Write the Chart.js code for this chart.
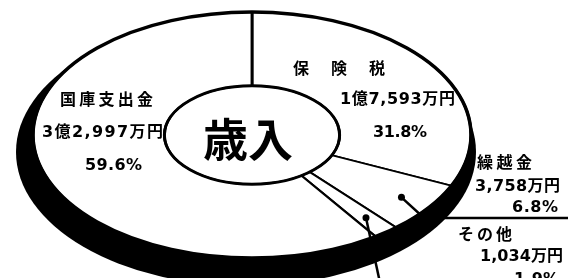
<!DOCTYPE html>
<html>
<head>
<meta charset="utf-8">
<script src="https://cdn.jsdelivr.net/npm/chart.js@4/dist/chart.umd.min.js"></script>
<style>
html,body{margin:0;padding:0;background:#fff;overflow:hidden;}
canvas{display:block;}
</style>
</head>
<body>
<canvas id="c" width="588" height="278"></canvas>
<script>
// ---- data (clockwise from the top) ----
const categories = ['保険税', '繰越金', 'その他', '国庫支出金'];
const amounts = ['1億7,593万円', '3,758万円', '1,034万円', '3億2,997万円'];
const percents = [31.8, 6.8, 1.9, 59.6];
const centerTitle = '歳入';

// ---- layout / style ----
const ellipse = { cx: 252, cy: 135, rx: 219, ry: 123 };   // projected pie rim
const shadow = { dx: -6, dy: 17, grow: 11 };              // 3D depth band
const textFont = 'bold 16px "DejaVu Sans", "Noto Sans CJK JP", sans-serif';
const titleFont = 'bold 45px "Noto Sans CJK JP", sans-serif';
// [x0, x1, yCenter] spans for name / amount / percent of each slice
const labelBoxes = [
  { name: [293, 385, 70],  amount: [340, 455, 100], pct: [373, 427, 133] },
  { name: [477, 532, 164], amount: [475, 560, 187], pct: [512, 558, 208] },
  { name: [458, 512, 236], amount: [480, 563, 257], pct: [514, 559, 280] },
  { name: [60, 153, 101],  amount: [42, 163, 133],  pct: [85, 142, 166] }
];
const leaders = [
  { index: 1, frac: 0.75, points: [[424, 218], [568, 218]] },
  { index: 2, frac: 0.75, points: [[382, 292]] }
];

function spanText(ctx, str, x0, x1, y) {
  const chars = Array.from(str);
  const widths = chars.map(ch => ctx.measureText(ch).width);
  const total = widths.reduce((a, b) => a + b, 0);
  const gap = chars.length > 1 ? (x1 - x0 - total) / (chars.length - 1) : 0;
  let x = x0;
  chars.forEach((ch, i) => { ctx.fillText(ch, x, y); x += widths[i] + gap; });
}

const tiltPlugin = {
  id: 'tilt',
  beforeDatasetsDraw(chart) {
    const ctx = chart.ctx;
    const arc = chart.getDatasetMeta(0).data[0];
    const R = arc.outerRadius, r = arc.innerRadius;
    const sx = ellipse.rx / R, sy = ellipse.ry / R;
    // depth band of the 3D pie
    ctx.save();
    ctx.fillStyle = '#000';
    ctx.beginPath();
    ctx.ellipse(ellipse.cx + shadow.dx, ellipse.cy + shadow.dy,
                R * sx + shadow.grow, R * sy + shadow.grow, 0, 0, Math.PI * 2);
    ctx.fill();
    // white hub
    ctx.fillStyle = '#fff';
    ctx.beginPath();
    ctx.ellipse(ellipse.cx, ellipse.cy, r * sx + 1, r * sy + 1, 0, 0, Math.PI * 2);
    ctx.fill();
    ctx.restore();
    // squash the round pie into the tilted ellipse
    ctx.save();
    ctx.translate(ellipse.cx, ellipse.cy);
    ctx.scale(sx, sy);
    ctx.translate(-arc.x, -arc.y);
  },
  afterDatasetsDraw(chart) {
    const ctx = chart.ctx;
    ctx.restore();
    const arcs = chart.getDatasetMeta(0).data;
    const R = arcs[0].outerRadius, r = arcs[0].innerRadius;
    const sx = ellipse.rx / R, sy = ellipse.ry / R;
    const map = (a, rad) => ({ x: ellipse.cx + Math.cos(a) * rad * sx, y: ellipse.cy + Math.sin(a) * rad * sy });
    ctx.save();
    ctx.strokeStyle = '#000';
    ctx.fillStyle = '#000';
    // rim and hub outlines
    ctx.lineWidth = 3.5;
    ctx.beginPath();
    ctx.ellipse(ellipse.cx, ellipse.cy, R * sx, R * sy, 0, 0, Math.PI * 2);
    ctx.stroke();
    ctx.lineWidth = 3;
    ctx.beginPath();
    ctx.ellipse(ellipse.cx, ellipse.cy, r * sx, r * sy, 0, 0, Math.PI * 2);
    ctx.stroke();
    // leader lines
    ctx.lineWidth = 2.5;
    leaders.forEach(ld => {
      const a = arcs[ld.index];
      const mid = (a.startAngle + a.endAngle) / 2;
      const p = map(mid, a.innerRadius + (a.outerRadius - a.innerRadius) * ld.frac);
      ctx.beginPath();
      ctx.arc(p.x, p.y, 3.5, 0, Math.PI * 2);
      ctx.fill();
      ctx.beginPath();
      ctx.moveTo(p.x, p.y);
      ld.points.forEach(q => ctx.lineTo(q[0], q[1]));
      ctx.stroke();
    });
    // labels
    ctx.font = textFont;
    ctx.textBaseline = 'middle';
    ctx.textAlign = 'left';
    categories.forEach((name, i) => {
      const b = labelBoxes[i];
      spanText(ctx, name, b.name[0], b.name[1], b.name[2]);
      spanText(ctx, amounts[i], b.amount[0], b.amount[1], b.amount[2]);
      spanText(ctx, percents[i].toFixed(1) + '%', b.pct[0], b.pct[1], b.pct[2]);
    });
    // center title
    ctx.font = titleFont;
    ctx.textAlign = 'center';
    ctx.fillText(centerTitle, ellipse.cx - 4, ellipse.cy + 5);
    ctx.restore();
  }
};

new Chart(document.getElementById('c'), {
  type: 'doughnut',
  data: {
    labels: categories,
    datasets: [{
      data: percents,
      backgroundColor: '#ffffff',
      borderColor: '#000000',
      borderWidth: 1.8,
      hoverOffset: 0,
      clip: false
    }]
  },
  options: {
    responsive: false,
    animation: false,
    devicePixelRatio: 1,
    cutout: '40%',
    layout: { padding: 0 },
    events: [],
    plugins: { legend: { display: false }, tooltip: { enabled: false } }
  },
  plugins: [tiltPlugin]
});
</script>
</body>
</html>
